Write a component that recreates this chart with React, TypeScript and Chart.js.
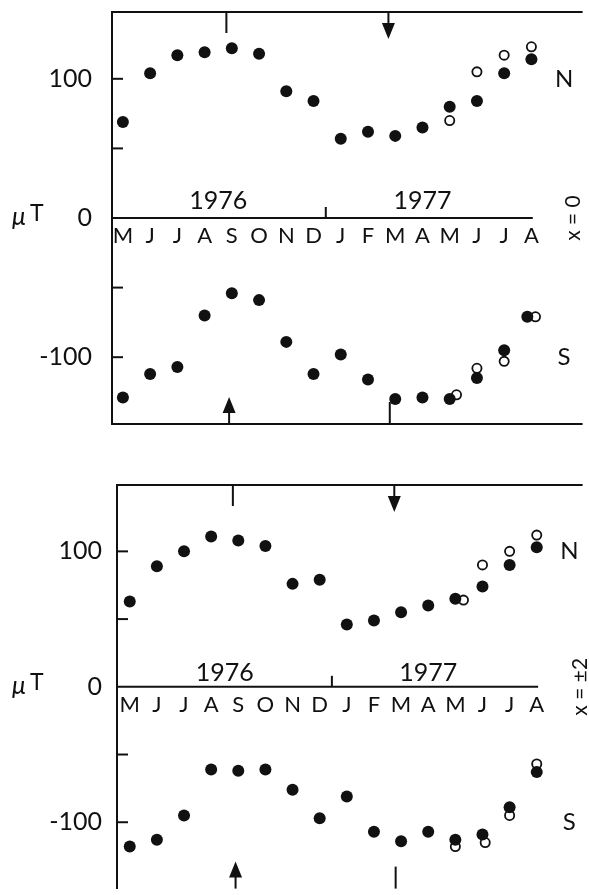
import React, { useEffect, useRef } from "react";
import { Chart, registerables } from "chart.js";

Chart.register(...registerables);

// ---------- data ----------
const MONTHS = ["M", "J", "J", "A", "S", "O", "N", "D", "J", "F", "M", "A", "M", "J", "J", "A"];
const MONTH_INDEX = [0, 1, 2, 3, 4, 5, 6, 7, 8, 9, 10, 11, 12, 13, 14, 15];
const YEAR_LABELS = ["1976", "1977"];
const YEAR_LABEL_MONTH = [3.5, 11.0];
const YEAR_DIVIDER_MONTH = 7.45;
const Y_TICKS = [-100, -50, 0, 50, 100];
const Y_LABELED = [-100, 0, 100];
const UNIT_LABEL = "μT";

// panel x = 0
const X0_N_FILLED = [69, 104, 117, 119, 122, 118, 91, 84, 57, 62, 59, 65, 80, 84, 104, 114];
const X0_N_OPEN_MONTH = [12, 13, 14, 15];
const X0_N_OPEN = [70, 105, 117, 123];
const X0_S_FILLED_MONTH = [0, 1, 2, 3, 4, 5, 6, 7, 8, 9, 10, 11, 12, 13, 14, 14.85];
const X0_S_FILLED = [-129, -112, -107, -70, -54, -59, -89, -112, -98, -116, -130, -129, -130, -115, -95, -71];
const X0_S_OPEN_MONTH = [12.25, 13, 14, 15.15];
const X0_S_OPEN = [-127, -108, -103, -71];

// panel x = ±2
const X2_N_FILLED = [63, 89, 100, 111, 108, 104, 76, 79, 46, 49, 55, 60, 65, 74, 90, 103];
const X2_N_OPEN_MONTH = [12.3, 13, 14, 15];
const X2_N_OPEN = [64, 90, 100, 112];
const X2_S_FILLED = [-118, -113, -95, -61, -62, -61, -76, -97, -81, -107, -114, -107, -113, -109, -89, -63];
const X2_S_OPEN_MONTH = [12, 13.1, 14, 15];
const X2_S_OPEN = [-118, -115, -95, -57];

// event markers (in month units)
const TOP_TICK_MONTH = 3.8;
const TOP_ARROW_MONTH = 9.75;
const BOTTOM_ARROW_MONTH = 3.9;
const BOTTOM_TICK_MONTH = 9.8;
const ZERO_LINE_END_MONTH = 15.05;
const SIDE_LABEL_MONTH = 16.2;

// ---------- style ----------
const INK = "#111";
const FONT = "Lato, 'DejaVu Sans', sans-serif";

type PanelCfg = {
  top: number;
  height: number;
  left: number;
  padTop: number;
  padBottom: number;
  xMin: number;
  xMax: number;
  yMax: number;
  labelPad: number;
  monthPad: number;
  yearLift: number;
  bottomBorder: boolean;
  sideLabel: string;
  sideX: number;
  nFilled: number[];
  nFilledX: number[];
  nOpen: number[];
  nOpenX: number[];
  sFilled: number[];
  sFilledX: number[];
  sOpen: number[];
  sOpenX: number[];
};

const PANELS: PanelCfg[] = [
  {
    top: 0, height: 448, left: 112, padTop: 12, padBottom: 24,
    xMin: -0.4, xMax: 16.88, yMax: 148, labelPad: 12, monthPad: -3, yearLift: 9,
    bottomBorder: true, sideLabel: "x = 0", sideX: 16.55,
    nFilled: X0_N_FILLED, nFilledX: MONTH_INDEX, nOpen: X0_N_OPEN, nOpenX: X0_N_OPEN_MONTH,
    sFilled: X0_S_FILLED, sFilledX: X0_S_FILLED_MONTH, sOpen: X0_S_OPEN, sOpenX: X0_S_OPEN_MONTH,
  },
  {
    top: 448, height: 447, left: 117, padTop: 37, padBottom: 0,
    xMin: -0.47, xMax: 16.69, yMax: 149, labelPad: 7, monthPad: -3, yearLift: 6,
    bottomBorder: false, sideLabel: "x = ±2", sideX: 16.6,
    nFilled: X2_N_FILLED, nFilledX: MONTH_INDEX, nOpen: X2_N_OPEN, nOpenX: X2_N_OPEN_MONTH,
    sFilled: X2_S_FILLED, sFilledX: MONTH_INDEX, sOpen: X2_S_OPEN, sOpenX: X2_S_OPEN_MONTH,
  },
];

const toPts = (xs: number[], ys: number[]) => ys.map((v, i) => ({ x: xs[i], y: v }));

function makePlugin(p: PanelCfg) {
  return {
    id: "frame",
    beforeDatasetsDraw(chart: any) {
      const { ctx, chartArea: a, scales } = chart;
      const x = scales.x;
      const y = scales.y;
      const line = (x1: number, y1: number, x2: number, y2: number) => {
        ctx.beginPath();
        ctx.moveTo(x1, y1);
        ctx.lineTo(x2, y2);
        ctx.stroke();
      };
      ctx.save();
      ctx.strokeStyle = INK;
      ctx.fillStyle = INK;
      ctx.lineWidth = 2;
      // frame
      line(a.left, a.top, a.right, a.top);
      if (p.bottomBorder) line(a.left, a.bottom, a.right, a.bottom);
      const y0 = y.getPixelForValue(0);
      line(a.left, y0, x.getPixelForValue(ZERO_LINE_END_MONTH), y0);
      // inward ticks
      Y_TICKS.filter((v) => v !== 0).forEach((v) => {
        const py = y.getPixelForValue(v);
        line(a.left, py, a.left + 11, py);
      });
      // year divider
      const xd = x.getPixelForValue(YEAR_DIVIDER_MONTH);
      line(xd, y0, xd, y0 - 11);
      // top tick
      const xt = x.getPixelForValue(TOP_TICK_MONTH);
      line(xt, a.top, xt, a.top + 21);
      // top down arrow
      const xa = x.getPixelForValue(TOP_ARROW_MONTH);
      line(xa, a.top, xa, a.top + 12);
      ctx.beginPath();
      ctx.moveTo(xa - 6.5, a.top + 11);
      ctx.lineTo(xa + 6.5, a.top + 11);
      ctx.lineTo(xa, a.top + 27);
      ctx.closePath();
      ctx.fill();
      // bottom up arrow
      const xb = x.getPixelForValue(BOTTOM_ARROW_MONTH);
      line(xb, a.bottom, xb, a.bottom - 12);
      ctx.beginPath();
      ctx.moveTo(xb - 6.5, a.bottom - 11);
      ctx.lineTo(xb + 6.5, a.bottom - 11);
      ctx.lineTo(xb, a.bottom - 27);
      ctx.closePath();
      ctx.fill();
      // bottom tick
      const xbt = x.getPixelForValue(BOTTOM_TICK_MONTH);
      line(xbt, a.bottom, xbt, a.bottom - 22);

      // texts
      ctx.font = `400 25px ${FONT}`;
      ctx.textAlign = "center";
      ctx.textBaseline = "alphabetic";
      YEAR_LABELS.forEach((t, i) => {
        ctx.fillText(t, x.getPixelForValue(YEAR_LABEL_MONTH[i]), y0 - p.yearLift);
      });
      ctx.font = `400 24px ${FONT}`;
      ctx.textBaseline = "middle";
      const sx = x.getPixelForValue(SIDE_LABEL_MONTH);
      ctx.fillText("N", sx, y.getPixelForValue(100));
      ctx.fillText("S", sx, y.getPixelForValue(-100));
      // unit label
      ctx.textAlign = "left";
      ctx.font = `italic 400 25px ${FONT}`;
      ctx.fillText(UNIT_LABEL.slice(0, 1), 12, y0 - 1);
      ctx.font = `400 23px ${FONT}`;
      ctx.fillText(UNIT_LABEL.slice(1), 30, y0 - 4);
      // rotated side label
      ctx.save();
      ctx.translate(x.getPixelForValue(p.sideX), y0);
      ctx.rotate(-Math.PI / 2);
      ctx.textAlign = "center";
      ctx.font = `400 21px ${FONT}`;
      ctx.fillText(p.sideLabel, 0, 0);
      ctx.restore();
      ctx.restore();
    },
  };
}

function zeroPads(s: any) {
  s.paddingLeft = 0;
  s.paddingRight = 0;
  s.paddingTop = 0;
  s.paddingBottom = 0;
}

function Panel({ p }: { p: PanelCfg }) {
  const ref = useRef<HTMLCanvasElement | null>(null);
  useEffect(() => {
    if (!ref.current) return;
    const filled = { pointStyle: "circle", pointRadius: 6, pointBackgroundColor: INK, pointBorderWidth: 0, showLine: false };
    const open = { pointStyle: "circle", pointRadius: 4.6, pointBackgroundColor: "#fff", pointBorderColor: INK, pointBorderWidth: 1.8, showLine: false };
    const chart = new Chart(ref.current, {
      type: "scatter",
      data: {
        datasets: [
          { label: "N", data: toPts(p.nFilledX, p.nFilled), ...filled },
          { label: "S", data: toPts(p.sFilledX, p.sFilled), ...filled },
          { label: "N open", data: toPts(p.nOpenX, p.nOpen), ...open },
          { label: "S open", data: toPts(p.sOpenX, p.sOpen), ...open },
        ] as any,
      },
      options: {
        responsive: false,
        animation: false,
        layout: { padding: { top: p.padTop, bottom: p.padBottom, left: 0, right: 0 } },
        plugins: { legend: { display: false }, tooltip: { enabled: false } },
        scales: {
          x: {
            type: "linear",
            min: p.xMin,
            max: p.xMax,
            position: { y: 0 } as any,
            grid: { display: false },
            border: { display: false },
            ticks: {
              autoSkip: false,
              maxRotation: 0,
              padding: p.monthPad,
              color: INK,
              font: { family: FONT, size: 22, weight: "400" as any },
              callback: (v: any) => MONTHS[v] ?? "",
            },
            afterBuildTicks: (s: any) => {
              s.ticks = MONTH_INDEX.map((i) => ({ value: i }));
            },
            afterFit: (s: any) => {
              s.height = 0;
              zeroPads(s);
            },
          },
          y: {
            type: "linear",
            min: -p.yMax,
            max: p.yMax,
            position: "left",
            grid: { display: false },
            border: { display: true, width: 2, color: INK },
            ticks: {
              padding: p.labelPad,
              color: INK,
              font: { family: FONT, size: 25, weight: "400" as any },
              callback: (v: any) => (Y_LABELED.includes(v) ? String(v) : ""),
            },
            afterBuildTicks: (s: any) => {
              s.ticks = Y_TICKS.map((v) => ({ value: v }));
            },
            afterFit: (s: any) => {
              s.width = p.left;
              zeroPads(s);
            },
          },
        },
      },
      plugins: [makePlugin(p)],
    });
    return () => chart.destroy();
  }, [p]);
  return (
    <canvas
      ref={ref}
      width={589}
      height={p.height}
      style={{ position: "absolute", left: 0, top: p.top, display: "block" }}
    />
  );
}

export default function App() {
  return (
    <div style={{ position: "absolute", left: 0, top: 0, width: 589, height: 895, background: "#fff", overflow: "hidden" }}>
      {PANELS.map((p, i) => (
        <Panel key={i} p={p} />
      ))}
    </div>
  );
}
